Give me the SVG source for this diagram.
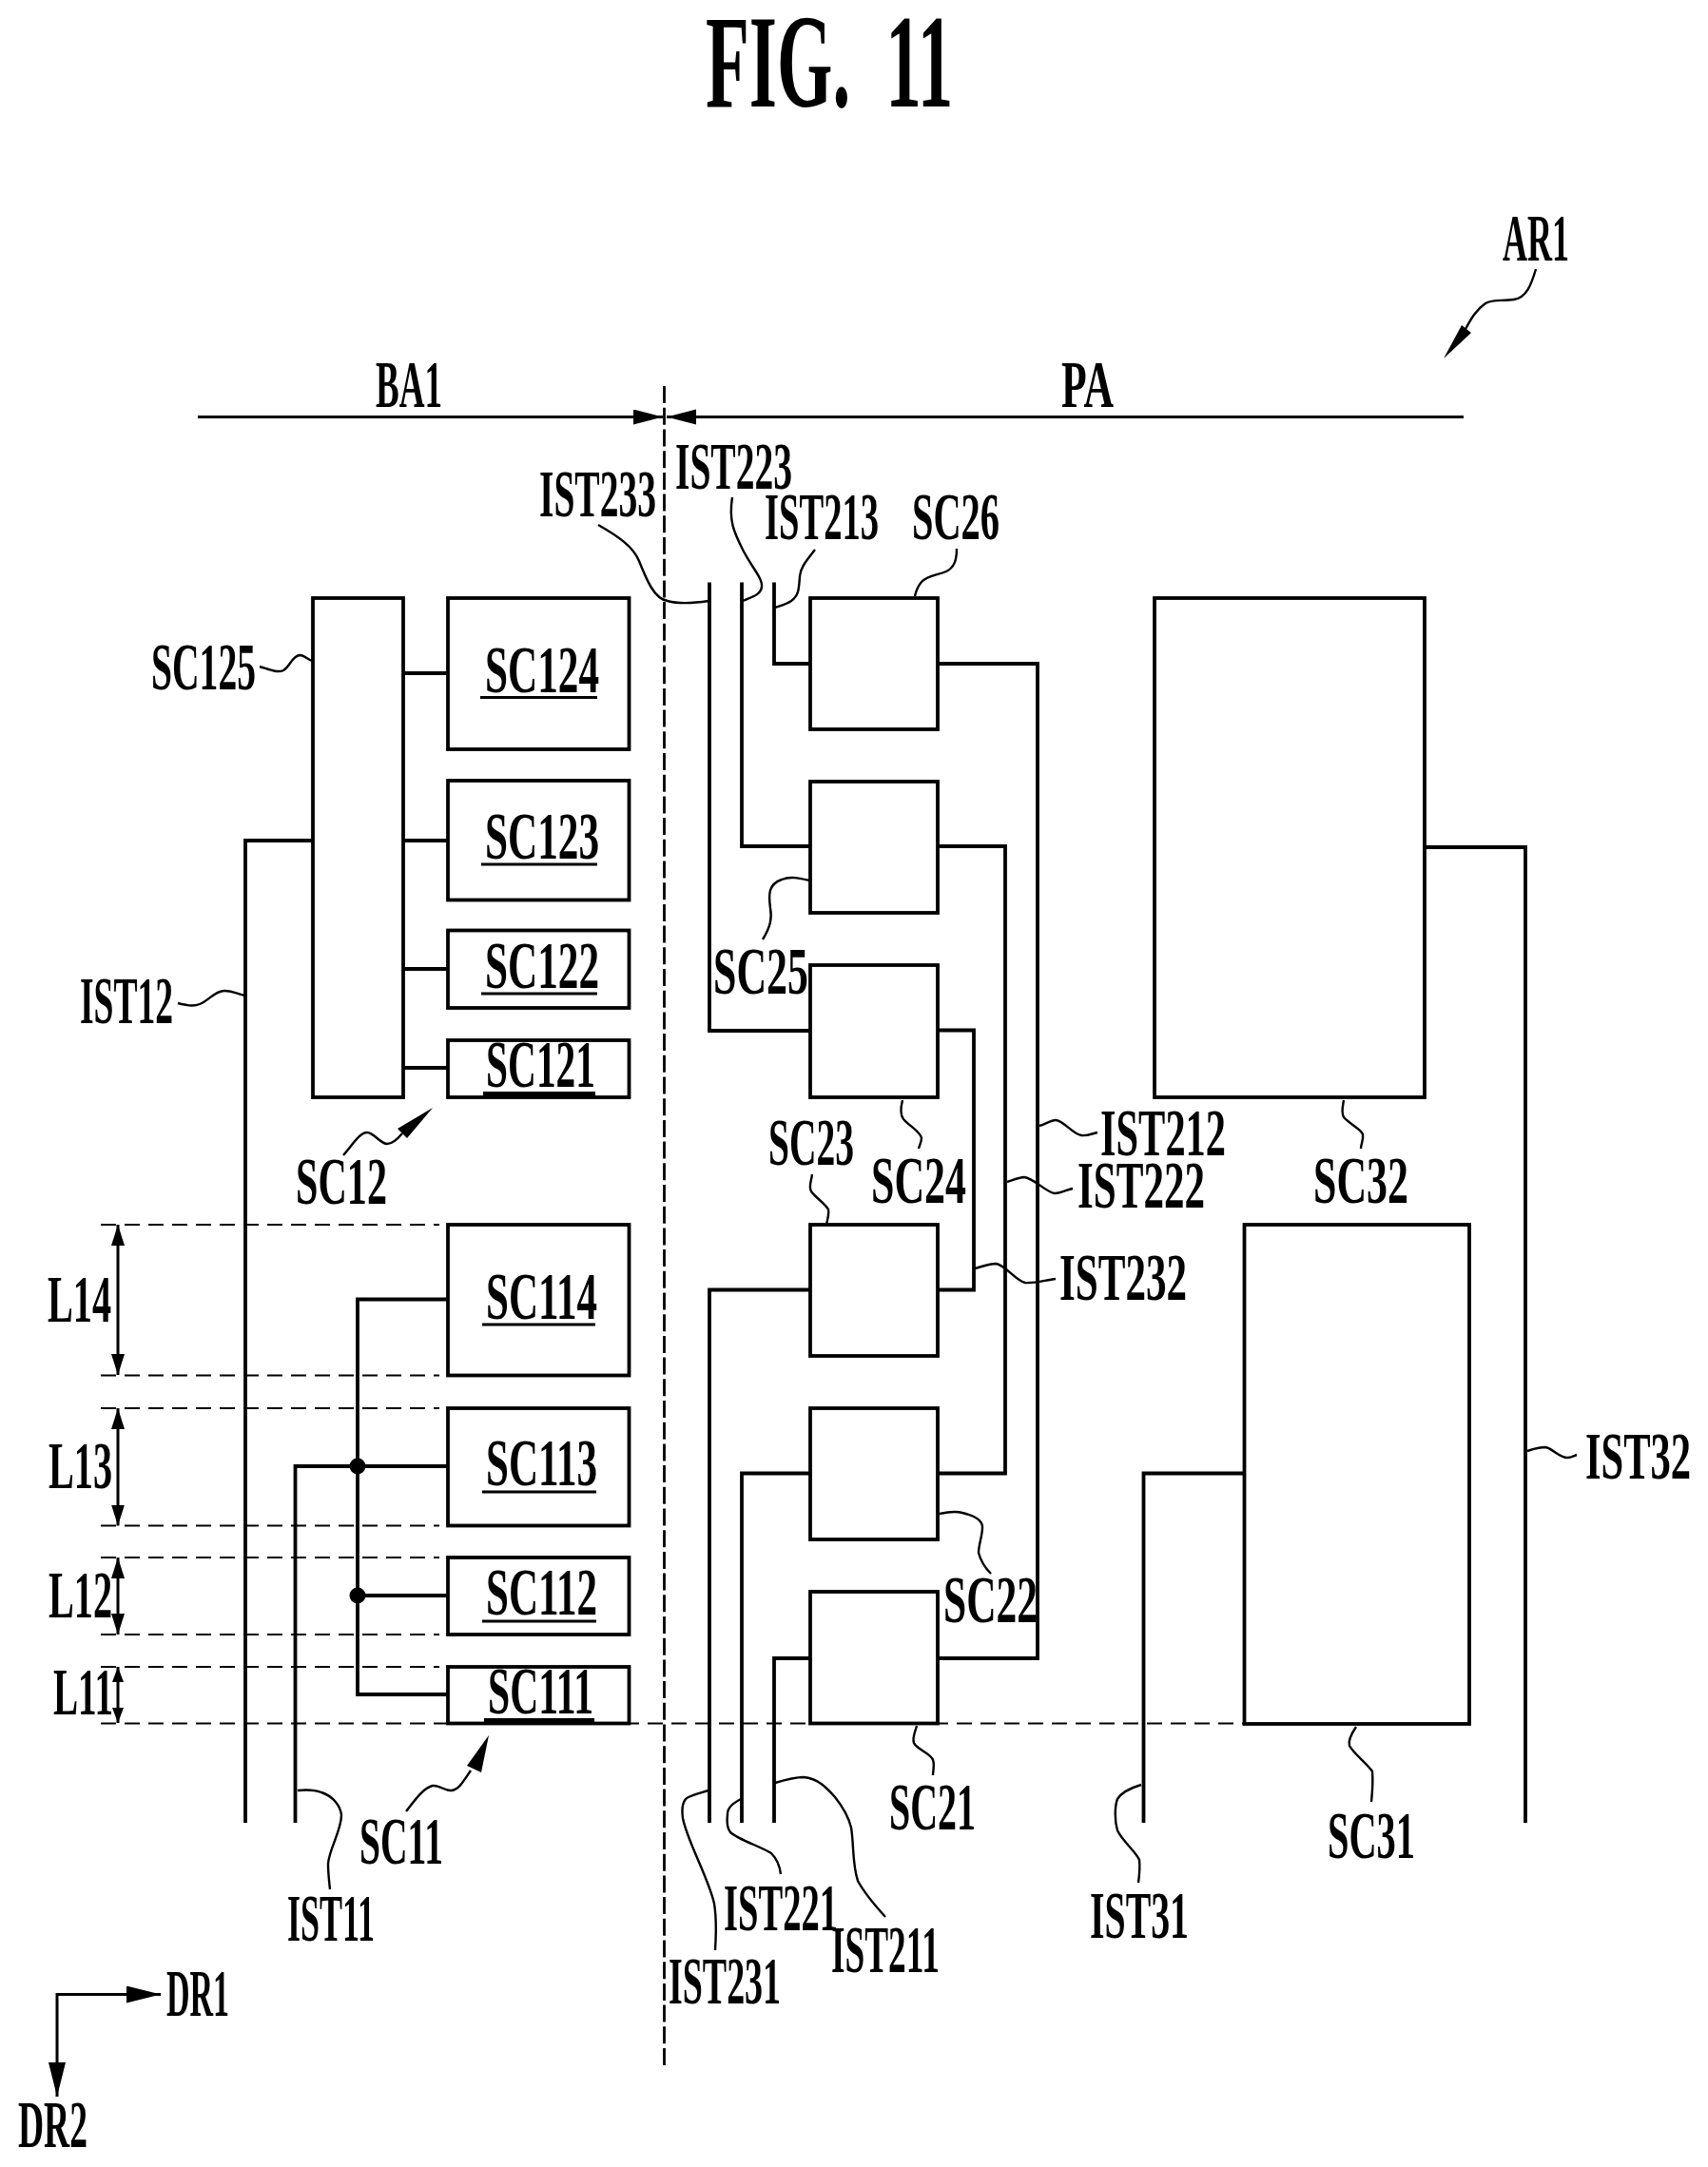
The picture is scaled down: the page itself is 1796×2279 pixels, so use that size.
<svg xmlns="http://www.w3.org/2000/svg" width="1796" height="2279" viewBox="0 0 1796 2279">
<defs>
<style>
text{font-family:"Liberation Serif","Times New Roman",serif;font-weight:bold;font-size:70px;fill:#000}
.b{fill:#fff;stroke:#000;stroke-width:3.8}
.w{fill:none;stroke:#000;stroke-width:3.8;stroke-linejoin:miter}
.l{fill:none;stroke:#000;stroke-width:2.4}
.d{fill:none;stroke:#000;stroke-width:2;stroke-dasharray:16 9}
.c{fill:none;stroke:#000;stroke-width:2.8;stroke-dasharray:18 4.7}
.u{stroke:#000;stroke-width:3}
.a{fill:none;stroke:#000;stroke-width:3}
</style>
<marker id="dim" markerUnits="userSpaceOnUse" markerWidth="24" markerHeight="16" refX="22" refY="7" orient="auto-start-reverse"><path d="M0,0L22,7L0,14Z"/></marker>
<marker id="dims" markerUnits="userSpaceOnUse" markerWidth="18" markerHeight="14" refX="16" refY="6" orient="auto-start-reverse"><path d="M0,0L16,6L0,12Z"/></marker>
<marker id="top" markerUnits="userSpaceOnUse" markerWidth="33" markerHeight="18" refX="31" refY="8" orient="auto-start-reverse"><path d="M0,0L31,8L0,16Z"/></marker>
<marker id="dr" markerUnits="userSpaceOnUse" markerWidth="38" markerHeight="20" refX="36" refY="9" orient="auto-start-reverse"><path d="M0,0L36,9L0,18Z"/></marker>
</defs>
<rect width="1796" height="2279" fill="#fff"/>
<g id="guides">
<path class="d" d="M106,1288H462M106,1446.5H462M106,1481H462M106,1604.5H462M106,1638H462M106,1719H462M106,1753H462M106,1812.5H1308"/>
<path class="c" d="M698.5,2172V405"/>
</g>
<g id="connectors">
<path class="w" d="M329,884H258V1917"/>
<path class="w" d="M424,708H471M424,884H471M424,1019H471M424,1123H471"/>
<path class="w" d="M471,1366.5H376V1782H471M310.5,1917V1542H471M376,1678H471"/>
<circle cx="376" cy="1542" r="8.5"/><circle cx="376" cy="1678" r="8.5"/>
<path class="w" d="M746,612.5V1084H852M780,612.5V890H852M814,612.5V698H852"/>
<path class="w" d="M986,698H1091V1744H986M986,890H1057V1549.5H986M986,1083.5H1024V1356.5H986"/>
<path class="w" d="M852,1356.5H746V1917M852,1549.5H780V1917M852,1744H814V1917"/>
<path class="w" d="M1498,891H1604V1917M1308,1549.5H1202.5V1917"/>
<path class="a" d="M124,1288V1446" marker-start="url(#dim)" marker-end="url(#dim)"/>
<path class="a" d="M124,1481V1604.5" marker-start="url(#dim)" marker-end="url(#dim)"/>
<path class="a" d="M124,1638V1719" marker-start="url(#dim)" marker-end="url(#dim)"/>
<path class="a" d="M124,1753V1812" marker-start="url(#dims)" marker-end="url(#dims)"/>
<path class="a" d="M208,438.5H697" marker-end="url(#top)"/>
<path class="a" d="M1539,438.5H701" marker-end="url(#top)"/>
<path class="a" d="M169,2097.5H60V2205" marker-start="url(#dr)" marker-end="url(#dr)"/>
</g>
<g id="leaders">
<path class="l" d="M629,552C650,564 666,575 672,590C680,610 688,630 702,632C716,636 732,634 745,632"/>
<path class="l" d="M770,523C766,548 772,560 781,578C790,596 802,608 801,617C800,626 790,628 781,632"/>
<path class="l" d="M857,578C848,590 842,596 841,606C840,620 840,626 832,632C826,636 820,637 815,639"/>
<path class="l" d="M1006,577C1006,590 1003,597 995,601C985,605 975,605 969,612C964,618 963,622 962,627"/>
<path class="l" d="M1615,283C1610,300 1605,313 1592,315C1580,317 1570,314 1562,319C1552,326 1547,335 1541,346"/>
<polygon points="1518,377 1537,342 1547,350"/>
<path class="l" d="M273,701C283,704 292,708 298,705C305,701 307,690 315,689C320,689 323,693 328,695"/>
<path class="l" d="M187,1055C195,1057 203,1059 210,1056C220,1052 226,1042 236,1042C243,1042 250,1045 257,1047"/>
<path class="l" d="M361,1215C370,1205 378,1191 386,1191C393,1191 400,1203 407,1203C413,1203 418,1198 423,1192"/>
<polygon points="455,1165 418,1187 428,1197"/>
<path class="l" d="M802,988C810,975 812,966 810,955C808,940 808,930 822,925C832,921 842,924 851,926"/>
<path class="l" d="M949,1157C947,1165 946,1172 950,1177C957,1185 968,1190 969,1197C969,1201 967,1204 966,1208"/>
<path class="l" d="M854,1235C853,1243 850,1248 853,1253C858,1260 868,1266 871,1272C872,1278 870,1282 869,1288"/>
<path class="l" d="M1093,1184C1100,1182 1105,1178 1110,1178C1118,1178 1128,1193 1137,1194C1143,1195 1149,1192 1154,1191"/>
<path class="l" d="M1059,1243C1065,1241 1072,1238 1077,1238C1087,1239 1100,1254 1109,1255C1116,1255 1122,1251 1128,1250"/>
<path class="l" d="M1025,1334C1033,1332 1040,1329 1047,1329C1057,1330 1068,1347 1078,1349C1088,1350 1100,1346 1110,1345"/>
<path class="l" d="M1413,1157C1412,1163 1410,1170 1413,1175C1419,1182 1432,1188 1433,1193C1434,1199 1431,1203 1431,1208"/>
<path class="l" d="M988,1592C997,1590 1005,1589 1012,1591C1024,1594 1033,1598 1033,1606C1033,1616 1029,1624 1029,1633C1031,1641 1037,1650 1042,1655"/>
<path class="l" d="M964,1815C962,1822 959,1828 961,1833C964,1840 979,1844 981,1851C983,1856 981,1862 981,1867"/>
<path class="l" d="M745,1883C735,1886 725,1888 721,1892C717,1897 717,1905 718,1912C722,1935 745,1975 751,2002C754,2020 753,2035 752,2051"/>
<path class="l" d="M779,1892C772,1896 765,1900 765,1908C764,1916 764,1922 768,1927C777,1935 800,1942 811,1949C817,1955 820,1963 821,1971"/>
<path class="l" d="M815,1875C825,1872 835,1869 845,1869C860,1870 870,1881 878,1890C886,1900 892,1910 895,1922C898,1940 896,1960 902,1978C910,1993 922,2006 931,2016"/>
<path class="l" d="M1200,1877C1190,1880 1180,1884 1175,1892C1172,1900 1172,1915 1175,1925C1180,1936 1195,1948 1198,1956C1199,1965 1198,1972 1197,1980"/>
<path class="l" d="M1426,1816C1422,1822 1417,1830 1419,1836C1424,1845 1438,1855 1443,1863C1444,1875 1443,1885 1442,1895"/>
<path class="l" d="M1606,1526C1612,1524 1618,1522 1625,1522C1632,1523 1640,1533 1648,1533C1652,1533 1655,1531 1658,1530"/>
<path class="l" d="M313,1883C322,1882 330,1882 338,1885C350,1889 358,1899 359,1909C359,1925 346,1945 345,1960C345,1970 346,1978 347,1987"/>
<path class="l" d="M427,1905C435,1895 445,1880 455,1878C462,1877 468,1884 475,1883C483,1882 488,1872 495,1862"/>
<polygon points="514,1825 491,1857 506,1864"/>
</g>
<g id="SC125"><rect class="b" x="329" y="629" width="95" height="525"/></g>
<g id="SC124"><rect class="b" x="471" y="629" width="190.500" height="159"/><text x="510" y="728" textLength="120" lengthAdjust="spacingAndGlyphs">SC124</text><path class="u" d="M505,733.5H628"/></g>
<g id="SC123"><rect class="b" x="471" y="821" width="190.500" height="125.500"/><text x="510" y="903" textLength="120" lengthAdjust="spacingAndGlyphs">SC123</text><path class="u" d="M506,909H628"/></g>
<g id="SC122"><rect class="b" x="471" y="978.500" width="190.500" height="81.500"/><text x="510" y="1039" textLength="120" lengthAdjust="spacingAndGlyphs">SC122</text><path class="u" d="M506,1045H628"/></g>
<g id="SC121"><rect class="b" x="471" y="1094" width="190.500" height="60"/><text x="511" y="1143" textLength="115" lengthAdjust="spacingAndGlyphs">SC121</text><path class="u" style="stroke-width:5" d="M508,1150.5H626"/></g>
<g id="SC114"><rect class="b" x="471" y="1288" width="190.500" height="158.500"/><text x="511" y="1387" textLength="117" lengthAdjust="spacingAndGlyphs">SC114</text><path class="u" d="M507,1393H626"/></g>
<g id="SC113"><rect class="b" x="471" y="1481" width="190.500" height="123.500"/><text x="511" y="1562" textLength="117" lengthAdjust="spacingAndGlyphs">SC113</text><path class="u" d="M507,1569H627"/></g>
<g id="SC112"><rect class="b" x="471" y="1638" width="190.500" height="81"/><text x="511" y="1698" textLength="117" lengthAdjust="spacingAndGlyphs">SC112</text><path class="u" d="M507,1705H627"/></g>
<g id="SC111"><rect class="b" x="471" y="1753" width="190.500" height="59.500"/><text x="513" y="1802" textLength="111" lengthAdjust="spacingAndGlyphs">SC111</text><path class="u" style="stroke-width:5" d="M509,1809.5H625"/></g>
<g id="SC26"><rect class="b" x="852" y="629" width="134" height="138"/></g>
<g id="SC25"><rect class="b" x="852" y="822" width="134" height="138"/></g>
<g id="SC24"><rect class="b" x="852" y="1015" width="134" height="139"/></g>
<g id="SC23"><rect class="b" x="852" y="1288" width="134" height="138"/></g>
<g id="SC22"><rect class="b" x="852" y="1481" width="134" height="138"/></g>
<g id="SC21"><rect class="b" x="852" y="1674" width="134" height="138.500"/></g>
<g id="SC32"><rect class="b" x="1214" y="629" width="284" height="525"/></g>
<g id="SC31"><rect class="b" x="1308.500" y="1288" width="236.500" height="525"/></g>
<g id="labels">
<text transform="translate(742,112) scale(.54,1)" style="font-size:139px;word-spacing:34px">FIG. 11</text>
<text x="1580" y="274" textLength="70" lengthAdjust="spacingAndGlyphs">AR1</text>
<text x="1116" y="428" textLength="55" lengthAdjust="spacingAndGlyphs">PA</text>
<text x="395" y="428" textLength="70" lengthAdjust="spacingAndGlyphs">BA1</text>
<text x="567" y="543" textLength="123" lengthAdjust="spacingAndGlyphs">IST233</text>
<text x="710" y="514" textLength="123" lengthAdjust="spacingAndGlyphs">IST223</text>
<text x="804" y="567" textLength="120" lengthAdjust="spacingAndGlyphs">IST213</text>
<text x="959" y="567" textLength="92" lengthAdjust="spacingAndGlyphs">SC26</text>
<text x="159" y="725" textLength="110" lengthAdjust="spacingAndGlyphs">SC125</text>
<text x="84" y="1076" textLength="98" lengthAdjust="spacingAndGlyphs">IST12</text>
<text x="750" y="1045" textLength="100" lengthAdjust="spacingAndGlyphs">SC25</text>
<text x="311" y="1266" textLength="96" lengthAdjust="spacingAndGlyphs">SC12</text>
<text x="808" y="1225" textLength="90" lengthAdjust="spacingAndGlyphs">SC23</text>
<text x="916" y="1265" textLength="100" lengthAdjust="spacingAndGlyphs">SC24</text>
<text x="1157" y="1215" textLength="132" lengthAdjust="spacingAndGlyphs">IST212</text>
<text x="1133" y="1270" textLength="134" lengthAdjust="spacingAndGlyphs">IST222</text>
<text x="1114" y="1367" textLength="134" lengthAdjust="spacingAndGlyphs">IST232</text>
<text x="1381" y="1265" textLength="100" lengthAdjust="spacingAndGlyphs">SC32</text>
<text x="50" y="1390" textLength="67" lengthAdjust="spacingAndGlyphs">L14</text>
<text x="51" y="1565" textLength="67" lengthAdjust="spacingAndGlyphs">L13</text>
<text x="51" y="1701" textLength="67" lengthAdjust="spacingAndGlyphs">L12</text>
<text x="56" y="1803" textLength="63" lengthAdjust="spacingAndGlyphs">L11</text>
<text x="378" y="1960" textLength="88" lengthAdjust="spacingAndGlyphs">SC11</text>
<text x="302" y="2041" textLength="92" lengthAdjust="spacingAndGlyphs">IST11</text>
<text x="175" y="2120" textLength="66" lengthAdjust="spacingAndGlyphs">DR1</text>
<text x="19" y="2258" textLength="73" lengthAdjust="spacingAndGlyphs">DR2</text>
<text x="703" y="2107" textLength="118" lengthAdjust="spacingAndGlyphs">IST231</text>
<text x="761" y="2030" textLength="120" lengthAdjust="spacingAndGlyphs">IST221</text>
<text x="874" y="2074" textLength="114" lengthAdjust="spacingAndGlyphs">IST211</text>
<text x="1146" y="2038" textLength="104" lengthAdjust="spacingAndGlyphs">IST31</text>
<text x="935" y="1924" textLength="91" lengthAdjust="spacingAndGlyphs">SC21</text>
<text x="992" y="1706" textLength="99" lengthAdjust="spacingAndGlyphs">SC22</text>
<text x="1396" y="1954" textLength="92" lengthAdjust="spacingAndGlyphs">SC31</text>
<text x="1667" y="1555" textLength="111" lengthAdjust="spacingAndGlyphs">IST32</text>
</g>
</svg>
